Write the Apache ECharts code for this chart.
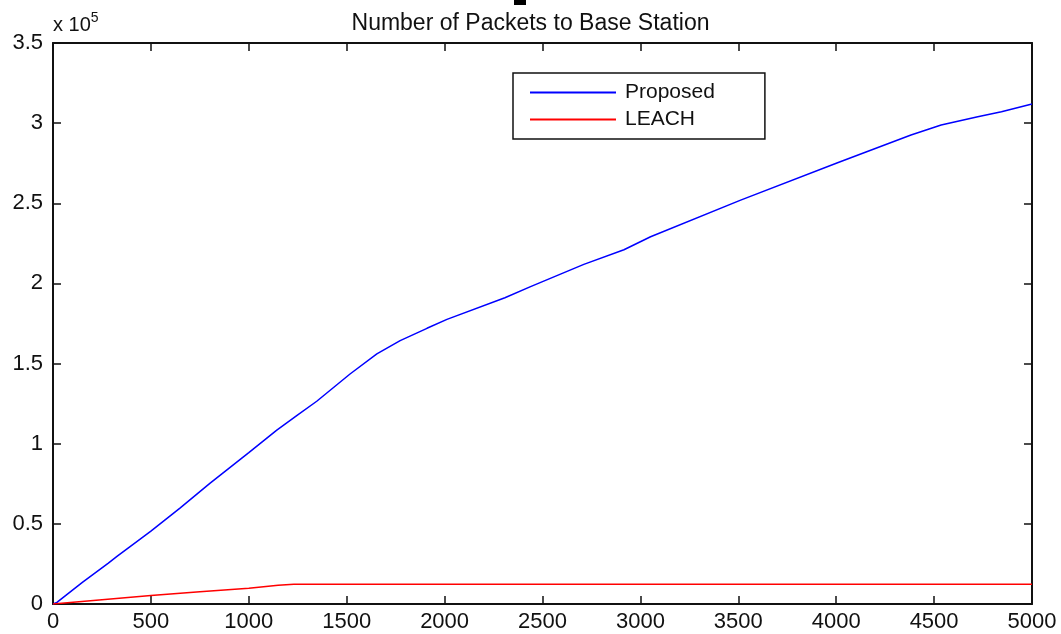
<!DOCTYPE html>
<html>
<head>
<meta charset="utf-8">
<title>Number of Packets to Base Station</title>
<script src="https://cdn.jsdelivr.net/npm/echarts@6/dist/echarts.min.js"></script>
<style>
  html, body { margin: 0; padding: 0; background: #fff; }
  #chart { width: 1061px; height: 634px; }
</style>
</head>
<body>
<div id="chart"></div>
<script>
// rounds on x, packets received on y
const proposedX = [0, 20, 150, 281, 330, 392, 500, 650, 801, 1000, 1143, 1250, 1347, 1517, 1654, 1773, 1910, 2012, 2308, 2439, 2711, 2916, 3052, 3512, 4007, 4382, 4536, 4723, 4844, 5000]
const proposedY = [0, 1000, 13500, 25400, 30000, 35700, 45500, 60000, 75300, 94400, 108500, 118000, 126500, 143500, 156000, 164300, 172000, 177600, 191100, 198000, 211900, 221000, 229100, 252000, 275300, 292600, 298800, 304000, 307100, 311900]
const leachX = [0, 250, 500, 750, 1000, 1150, 1230, 5000]
const leachY = [0, 2700, 5300, 7700, 9800, 11700, 12300, 12300]

const font = 'Liberation Sans, Arial, sans-serif'
const black = '#111'

const pairs = (xs, ys) => xs.map((x, i) => [x, ys[i]])

const axisLine = { show: true, onZero: false, lineStyle: { color: black, width: 2 } }
const axisTick = { show: true, inside: true, length: 8, lineStyle: { color: black, width: 1.5 } }
const axisLabel = { color: black, fontSize: 22, fontFamily: font }

const option = {
  animation: false,
  backgroundColor: '#fff',
  title: {
    text: 'Number of Packets to Base Station',
    left: 'center',
    top: 7,
    textStyle: { color: black, fontSize: 23, fontWeight: 'normal', fontFamily: font }
  },
  legend: {
    orient: 'vertical',
    left: 513,
    top: 73,
    icon: 'rect',
    itemWidth: 86,
    itemHeight: 2,
    itemGap: 6,
    padding: [9, 50, 9, 17],
    borderColor: black,
    borderWidth: 1.5,
    backgroundColor: '#fff',
    textStyle: { color: black, fontSize: 21, fontFamily: font, padding: [0, 0, 0, 4] },
    data: ['Proposed', 'LEACH']
  },
  grid: { left: 53, right: 29, top: 43, bottom: 30 },
  xAxis: [
    {
      type: 'value',
      min: 0,
      max: 5000,
      interval: 500,
      axisLine,
      axisTick,
      axisLabel: Object.assign({ margin: 7, formatter: v => String(v) }, axisLabel),
      splitLine: { show: false }
    },
    {
      type: 'value',
      position: 'top',
      min: 0,
      max: 5000,
      interval: 500,
      axisLine,
      axisTick,
      axisLabel: { show: false },
      splitLine: { show: false }
    }
  ],
  yAxis: [
    {
      type: 'value',
      position: 'left',
      min: 0,
      max: 350000,
      interval: 50000,
      axisLine,
      axisTick,
      axisLabel: Object.assign({ margin: 10, formatter: v => String(v / 100000) }, axisLabel),
      splitLine: { show: false },
      name: '{a|x 10}{sup|5}',
      nameLocation: 'end',
      nameGap: 8,
      nameTextStyle: {
        align: 'left',
        rich: {
          a: { fontSize: 20, color: black, fontFamily: font, verticalAlign: 'bottom' },
          sup: { fontSize: 14, color: black, fontFamily: font, verticalAlign: 'top', padding: [0, 0, 10, 0] }
        }
      }
    },
    {
      type: 'value',
      position: 'right',
      min: 0,
      max: 350000,
      interval: 50000,
      axisLine,
      axisTick,
      axisLabel: { show: false },
      splitLine: { show: false }
    }
  ],
  graphic: [
    { type: 'rect', left: 514, top: 0, shape: { width: 12, height: 5 }, style: { fill: '#000' } }
  ],
  series: [
    {
      name: 'Proposed',
      type: 'line',
      showSymbol: false,
      color: '#0000ff',
      lineStyle: { width: 1.5 },
      data: pairs(proposedX, proposedY)
    },
    {
      name: 'LEACH',
      type: 'line',
      showSymbol: false,
      color: '#ff0000',
      lineStyle: { width: 1.5 },
      data: pairs(leachX, leachY)
    }
  ]
}

const myChart = echarts.init(document.getElementById('chart'))
myChart.setOption(option)
</script>
</body>
</html>
